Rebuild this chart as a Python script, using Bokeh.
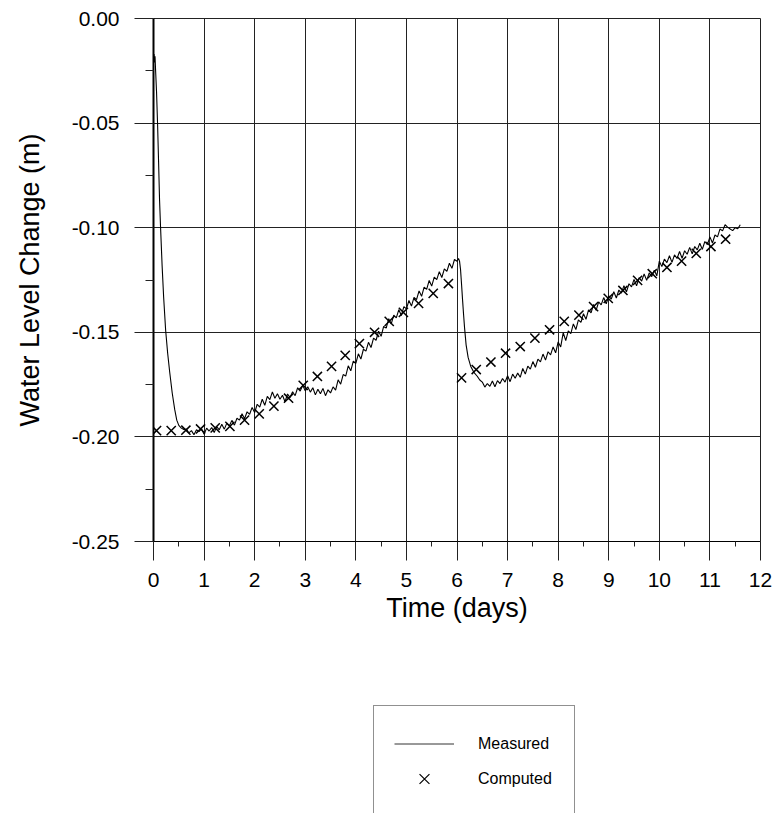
import numpy as np
from bokeh.plotting import figure
from bokeh.models import Range1d, FixedTicker, PrintfTickFormatter, Legend, LegendItem
from bokeh.layouts import column
from bokeh.embed import file_html
from bokeh.resources import INLINE

# ---------------- data ----------------
x_ticks = list(range(0, 13))
x_minor = [0.5 + i for i in range(12)]
y_ticks = [-0.25, -0.20, -0.15, -0.10, -0.05, 0.0]
y_minor = [-0.225, -0.175, -0.125, -0.075, -0.025]

# measured: initial drawdown
drop1_t = [0.00, 0.01, 0.02, 0.03, 0.04, 0.06, 0.08, 0.10, 0.12, 0.14, 0.17, 0.20,
           0.24, 0.28, 0.32, 0.37, 0.42, 0.46, 0.50, 0.55, 0.60]
drop1_v = [-0.019, -0.017, -0.021, -0.018, -0.024, -0.035, -0.050, -0.068, -0.087, -0.100,
           -0.118, -0.133, -0.149, -0.160, -0.169, -0.179, -0.187, -0.192, -0.1945, -0.1958, -0.1965]

# measured: recovery 1, every 0.05 d from 0.65 to 6.00
rec1_v = [
    -0.1962, -0.1981, -0.1970, -0.1990, -0.1966, -0.1975, -0.1961, -0.1988, -0.1958, -0.1972,
    -0.1955, -0.1979, -0.1951, -0.1966, -0.1940, -0.1963, -0.1934, -0.1947, -0.1921, -0.1944,
    -0.1911, -0.1920, -0.1889, -0.1913, -0.1880, -0.1892, -0.1859, -0.1884, -0.1844, -0.1858,
    -0.1820, -0.1849, -0.1806, -0.1822, -0.1785, -0.1815, -0.1794, -0.1820, -0.1801, -0.1832,
    -0.1795, -0.1812, -0.1784, -0.1803, -0.1765, -0.1781, -0.1753, -0.1780, -0.1760, -0.1786,
    -0.1765, -0.1799, -0.1772, -0.1794, -0.1768, -0.1803, -0.1775, -0.1790, -0.1761, -0.1776,
    -0.1727, -0.1748, -0.1702, -0.1709, -0.1660, -0.1684, -0.1638, -0.1649, -0.1603, -0.1628,
    -0.1581, -0.1590, -0.1548, -0.1573, -0.1528, -0.1538, -0.1495, -0.1519, -0.1472, -0.1480,
    -0.1435, -0.1460, -0.1418, -0.1431, -0.1392, -0.1420, -0.1377, -0.1388, -0.1348, -0.1375,
    -0.1333, -0.1344, -0.1302, -0.1328, -0.1284, -0.1295, -0.1252, -0.1279, -0.1236, -0.1248,
    -0.1210, -0.1238, -0.1197, -0.1209, -0.1170, -0.1194, -0.1152, -0.1160,
]

# measured: second drawdown
drop2_t = [6.03, 6.05, 6.07, 6.09, 6.11, 6.13, 6.15, 6.18, 6.22, 6.27, 6.33, 6.40, 6.45]
drop2_v = [-0.1147, -0.1160, -0.1200, -0.1270, -0.1345, -0.1415, -0.1480, -0.1560, -0.1620,
           -0.1662, -0.1690, -0.1710, -0.1728]

# measured: recovery 2, every 0.05 d from 6.50 to 11.60
rec2_v = [
    -0.1738, -0.1762, -0.1745, -0.1758, -0.1733, -0.1760, -0.1731, -0.1745, -0.1721, -0.1738,
    -0.1708, -0.1736, -0.1700, -0.1720, -0.1695, -0.1715, -0.1673, -0.1700, -0.1662, -0.1676,
    -0.1640, -0.1667, -0.1628, -0.1641, -0.1604, -0.1633, -0.1593, -0.1608, -0.1570, -0.1598,
    -0.1546, -0.1570, -0.1502, -0.1540, -0.1493, -0.1506, -0.1460, -0.1487, -0.1441, -0.1453,
    -0.1411, -0.1438, -0.1393, -0.1407, -0.1367, -0.1395, -0.1355, -0.1369, -0.1334, -0.1364,
    -0.1326, -0.1341, -0.1306, -0.1336, -0.1298, -0.1313, -0.1277, -0.1307, -0.1268, -0.1283,
    -0.1247, -0.1278, -0.1239, -0.1255, -0.1221, -0.1252, -0.1216, -0.1234, -0.1203, -0.1230,
    -0.1160, -0.1186, -0.1150, -0.1167, -0.1134, -0.1166, -0.1130, -0.1147, -0.1114, -0.1146,
    -0.1110, -0.1127, -0.1094, -0.1125, -0.1090, -0.1106, -0.1074, -0.1104, -0.1066, -0.1081,
    -0.1044, -0.1073, -0.1035, -0.1044, -0.1006, -0.1015, -0.0986, -0.0997, -0.1006, -0.1014,
    -0.1000, -0.1005, -0.0986,
]

# computed (model)
comp_t = [0.06, 0.35, 0.64, 0.93, 1.22, 1.51, 1.80, 2.09, 2.38, 2.67, 2.96, 3.24, 3.52, 3.79,
          4.07, 4.37, 4.66, 4.94, 5.24, 5.53, 5.83,
          6.09, 6.38, 6.67, 6.96, 7.25, 7.54, 7.83, 8.12, 8.41, 8.70, 8.99, 9.28, 9.57, 9.86,
          10.15, 10.44, 10.73, 11.02, 11.31]
comp_v = [-0.1970, -0.1970, -0.1968, -0.1962, -0.1957, -0.1950, -0.1920, -0.1890, -0.1853,
          -0.1815, -0.1754, -0.1711, -0.1663, -0.1610, -0.1554, -0.1500, -0.1448, -0.1405,
          -0.1362, -0.1314, -0.1267,
          -0.1718, -0.1678, -0.1642, -0.1600, -0.1568, -0.1528, -0.1488, -0.1448, -0.1418,
          -0.1377, -0.1338, -0.1300, -0.1252, -0.1220, -0.1190, -0.1160, -0.1123, -0.1090,
          -0.1055]

rec1_t = np.round(np.arange(0.65, 6.0001, 0.05), 2)
rec2_t = np.round(np.arange(6.50, 11.6001, 0.05), 2)
assert len(rec1_t) == len(rec1_v), (len(rec1_t), len(rec1_v))
assert len(rec2_t) == len(rec2_v), (len(rec2_t), len(rec2_v))

meas_t = np.concatenate([drop1_t, rec1_t, drop2_t, rec2_t])
meas_v = np.concatenate([drop1_v, rec1_v, drop2_v, rec2_v])

FONT = "Liberation Sans"

# ---------------- main chart ----------------
p = figure(width=774, height=660, output_backend="svg", toolbar_location=None,
           x_range=Range1d(0, 12), y_range=Range1d(-0.25, 0.0),
           min_border_left=153, min_border_right=14, min_border_top=18, min_border_bottom=119)
p.outline_line_color = "#222222"
p.outline_line_width = 1

line_r = p.line(meas_t, meas_v, line_color="black", line_width=1.1)
comp_r = p.scatter(comp_t, comp_v, marker="x", size=13, line_color="black", line_width=1.5)

for ax in (p.xaxis[0], p.yaxis[0]):
    ax.major_label_text_font = FONT
    ax.major_label_text_font_size = "21px"
    ax.major_label_text_color = "black"
    ax.axis_label_text_font = FONT
    ax.axis_label_text_font_size = "27px"
    ax.axis_label_text_font_style = "normal"
    ax.axis_label_text_color = "black"
    ax.major_tick_in = 0
    ax.major_tick_out = 19
    ax.minor_tick_in = 0
    ax.major_tick_line_color = "#222222"
    ax.minor_tick_line_color = "#222222"
    ax.axis_line_color = "black"

p.xaxis.ticker = FixedTicker(ticks=x_ticks, minor_ticks=x_minor)
p.yaxis.ticker = FixedTicker(ticks=y_ticks, minor_ticks=y_minor)
p.yaxis.formatter = PrintfTickFormatter(format="%.2f")
p.xaxis.axis_label = "Time (days)"
p.yaxis.axis_label = "Water Level Change (m)"
p.xaxis.minor_tick_out = 5
p.yaxis.minor_tick_out = 8
p.xaxis.major_label_standoff = 12
p.yaxis.major_label_standoff = 15
p.xaxis.axis_label_standoff = 3
p.yaxis.axis_label_standoff = 24
p.yaxis.axis_line_width = 2

p.xgrid.ticker = FixedTicker(ticks=x_ticks)
p.ygrid.ticker = FixedTicker(ticks=y_ticks)
for g in (p.xgrid[0], p.ygrid[0]):
    g.grid_line_color = "#222222"
    g.grid_line_width = 1
    g.grid_line_alpha = 1.0

# ---------------- legend panel ----------------
q = figure(width=774, height=153, output_backend="svg", toolbar_location=None,
           x_range=Range1d(0, 1), y_range=Range1d(0, 1),
           min_border=0, min_border_left=0, min_border_right=0,
           min_border_top=0, min_border_bottom=0)
q.axis.visible = False
q.grid.visible = False
q.outline_line_color = None
# legend proxies (NaN coordinates, nothing drawn)
lr = q.line([np.nan, np.nan], [np.nan, np.nan], line_color="#333333", line_width=1)
cr = q.scatter([np.nan], [np.nan], marker="x", size=17, line_color="black", line_width=1.2)
legend = Legend(items=[LegendItem(label="Measured", renderers=[lr]),
                       LegendItem(label="Computed", renderers=[cr])],
                location=(220, -4), margin=0, padding=20, spacing=0,
                glyph_width=60, glyph_height=35, label_standoff=24,
                label_width=76,
                label_text_font=FONT, label_text_font_size="16px", label_text_color="black",
                border_line_color="#222222", border_line_width=1,
                background_fill_color="white", background_fill_alpha=1.0)
q.add_layout(legend, "center")

layout = column(p, q, spacing=0)
open("out.html", "w").write(file_html(layout, INLINE))
